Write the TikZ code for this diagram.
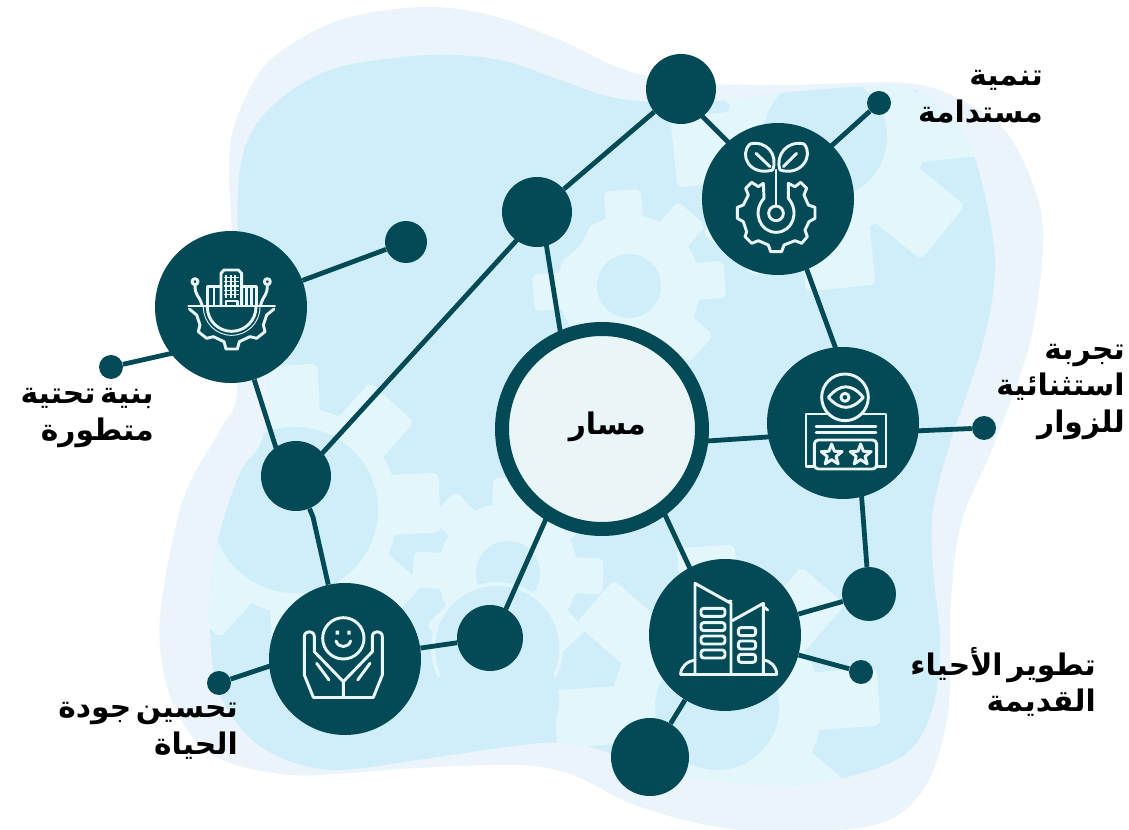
\documentclass[tikz,border=0pt]{standalone}
\usepackage{fontspec}
\usetikzlibrary{calc,backgrounds}
\TeXXeTstate=1
\newfontfamily\arfont[Script=Arabic,WordSpace=0.45]{DejaVu Sans Bold}
\definecolor{deep}{HTML}{034A56}
\definecolor{outerblob}{HTML}{EAF4FA}
\definecolor{innerblob}{HTML}{CFEEF9}
\definecolor{gearlight}{HTML}{E2F6FC}
\definecolor{iconline}{HTML}{E9F5F7}
\tikzset{
  disc/.style={circle,fill=deep,inner sep=0pt,minimum size=#1},
  big/.style={disc=114pt},
  link/.style={draw=deep,line width=3.6pt},
  icon/.style={draw=iconline,line width=2.2pt,line join=round,line cap=round},
  lbl/.style={font=\arfont\fontsize{22.3}{27.5}\selectfont,text=black,align=right,inner sep=0pt,anchor=east},
}
% \gearat{cx}{cy}{r out}{r body}{tooth width}{rotation}{hole}
\newcommand{\gearat}[7]{%
  \begin{scope}[shift={(#1,#2)}]
    \fill[gearlight] (0,0) circle[radius=#4];
    \foreach \gearang in {0,45,...,315}{
      \begin{scope}[rotate=\gearang+#6]
        \fill[gearlight,rounded corners=4.5pt] (#4-15,-#5/2) -- (#3,-#5/2) -- (#3,#5/2) -- (#4-15,#5/2) -- cycle;
      \end{scope}
    }
    \fill[innerblob] (0,0) circle[radius=#7];
  \end{scope}}
\def\innerpath{plot[smooth cycle,tension=.55] coordinates{(238,190)(250,135)(285,95)(340,67)(430,55)(500,60)(560,80)(610,97)(665,103)(720,101)(783,93)(857,87)(910,88)(950,115)(977,165)(995,260)(983,343)(950,443)(933,510)(933,570)(940,640)(933,707)(907,753)(847,777)(773,785)(683,775)(630,760)(583,745)(540,743)(483,750)(417,760)(333,770)(275,755)(240,727)(215,680)(210,600)(218,540)(240,473)(262,440)(268,380)(242,290)}}
\begin{document}
\begin{tikzpicture}[x=.75pt,y=-.75pt]
\useasboundingbox (0,0) rectangle (1129,830);
% nodes
\node[circle,draw=deep,fill=iconline,line width=10.5pt,inner sep=0pt,minimum size=150pt] (hub) at (602,429) {};
\node[big] (infra) at (231,307) {};
\node[big] (sprout) at (778,199) {};
\node[big] (eye) at (843,423) {};
\node[big] (towers) at (725,635) {};
\node[big] (hands) at (345,659) {};
\node[disc=52.5pt] (topm) at (681,89) {};
\node[disc=52.5pt] (upm) at (537,212) {};
\node[disc=52.5pt] (leftm) at (296,476) {};
\node[disc=49.5pt] (lowm) at (490,638) {};
\node[disc=40.5pt] (rightm) at (869,594) {};
\node[disc=58.5pt] (botm) at (650,757) {};
\node[disc=31.5pt] (infrad) at (406,242) {};
\node[disc=18pt] (infras) at (111,367) {};
\node[disc=18pt] (sprouts) at (879,103) {};
\node[disc=18pt] (eyes) at (984,428) {};
\node[disc=18pt] (towerss) at (861,672) {};
\node[disc=18pt] (handss) at (219,683) {};
\coordinate (kink) at (313,517);
\begin{pgfonlayer}{background}
  \fill[outerblob] plot[smooth cycle,tension=.55] coordinates{(229,165)(238,115)(270,60)(340,20)(423,7)(490,15)(560,40)(620,68)(680,82)(780,85)(907,83)(965,102)(1007,133)(1035,190)(1043,243)(1030,343)(993,447)(962,520)(951,600)(948,713)(923,790)(870,826)(740,830)(640,807)(573,775)(517,765)(417,768)(350,773)(290,775)(230,763)(195,740)(168,690)(160,617)(183,500)(220,430)(237,393)(235,280)};
  \fill[innerblob] \innerpath;
  \begin{scope}
    \clip \innerpath;
    \gearat{825}{137}{152}{100}{70}{6}{62}
    \gearat{295}{510}{145}{103}{60}{3}{83}
    \gearat{717}{708}{162}{105}{58}{4}{62}
    \gearat{629}{286}{96}{71}{37}{4}{32}
    \fill[innerblob] (upm) circle[radius=54];
    \gearat{508}{573}{95}{70}{36}{-2}{32}
    \fill[gearlight] (497,648) circle[radius=66];
    \fill[innerblob] (497,648) circle[radius=62];
    \fill[innerblob] (497,700) circle[radius=62];
  \end{scope}
  % connectors
  \draw[link] (infra) -- (infrad);
  \draw[link] ($(infra)+(0,33)$) -- (infras);
  \draw[link] (infra) -- ($(leftm)+(-11,0)$);
  \draw[link] ($(leftm)+(0,6)$) -- ($(upm)+(0,6)$);
  \draw[link] (leftm) -- (kink) -- (hands);
  \draw[link] (upm) -- (topm);
  \draw[link] ($(upm)+(4,0)$) -- ($(hub)+(-26,0)$);
  \draw[link] ($(topm)+(0,6)$) -- ($(sprout)+(0,-7)$);
  \draw[link] ($(sprout)+(0,-5)$) -- (sprouts);
  \draw[link] ($(sprout)+(3,0)$) -- ($(eye)+(20,0)$);
  \draw[link] ($(hub)+(0,19)$) -- ($(eye)+(0,9)$);
  \draw[link] ($(eye)+(0,11)$) -- (eyes);
  \draw[link] ($(eye)+(13,0)$) -- (rightm);
  \draw[link] (rightm) -- (towers);
  \draw[link] (towers) -- (towerss);
  \draw[link] (towers) -- (botm);
  \draw[link] ($(hub)+(23,0)$) -- ($(towers)+(-4,0)$);
  \draw[link] ($(hub)+(-16,0)$) -- ($(lowm)+(3,0)$);
  \draw[link] (lowm) -- (hands);
  \draw[link] ($(hands)+(0,-18)$) -- (handss);
\end{pgfonlayer}
% icon: infrastructure
\begin{scope}[shift={(150,225)},x=.25pt,y=-.25pt]
  \draw[icon] (213,240) -- (213,145) -- (222,135) -- (265,135) -- (275,145) -- (275,240);
  \draw[icon] (213,185) -- (172,185) -- (172,240);
  \draw[icon] (275,185) -- (320,185) -- (320,240);
  \draw[icon] (192,187) -- (192,240) (290,187) -- (290,240) (305,187) -- (305,240);
  \foreach \gx in {228,242,256} \draw[iconline,line width=1.5pt] (\gx,150) -- (\gx,218);
  \foreach \gy in {157,170,183,196,209} \draw[iconline,line width=.9pt] (222,\gy) -- (266,\gy);
  \draw[icon] (228,240) -- (228,228) -- (262,228) -- (262,240);
  \draw[icon] (116,243) -- (374,243);
  \draw[icon] (118,252) -- (140,270) -- (150,300) -- (145,320) -- (170,340) -- (190,335) -- (222,350) -- (228,372) -- (262,372) -- (268,350) -- (300,335) -- (320,340) -- (345,320) -- (340,300) -- (350,270) -- (372,252);
  \draw[icon] (172,246) arc[start angle=180,end angle=0,radius=73];
  \draw[iconline,line width=.7pt] (160,246) arc[start angle=180,end angle=0,radius=85];
  \draw[icon] (135,170) circle[radius=9] (352,170) circle[radius=9];
  \draw[icon] (135,179) .. controls (135,215) and (145,205) .. (156,240);
  \draw[icon] (352,179) .. controls (352,215) and (342,205) .. (332,240);
\end{scope}
% icon: sprout and gear
\begin{scope}[shift={(700,120)},x=.25pt,y=-.25pt]
  \draw[icon] (218,150) .. controls (150,170) and (115,105) .. (150,72) .. controls (200,60) and (235,105) .. (218,150);
  \draw[icon] (240,150) .. controls (225,105) and (262,60) .. (312,72) .. controls (342,105) and (305,170) .. (240,150);
  \draw[icon] (168,100) -- (210,140) (290,100) -- (250,140);
  \draw[icon] (228,150) -- (228,258);
  \draw[icon] (228,280) circle[radius=22];
  \draw[icon] (192,235) .. controls (155,275) and (180,337) .. (228,337) .. controls (278,337) and (300,275) .. (265,235);
  \draw[icon] (192,235) -- (190,190) -- (175,200) -- (155,187) -- (137,205) -- (145,225) -- (130,255) -- (112,262) -- (112,295) -- (130,305) -- (140,335) -- (135,350) -- (155,370) -- (175,362) -- (205,375) -- (212,395) -- (245,395) -- (252,375) -- (285,362) -- (305,370) -- (322,350) -- (315,330) -- (327,305) -- (345,295) -- (345,262) -- (325,255) -- (312,225) -- (320,205) -- (302,187) -- (285,200) -- (265,190) -- (265,235);
\end{scope}
% icon: eye and card
\begin{scope}[shift={(765,345)},x=.25pt,y=-.25pt]
  \draw[icon] (123,207) rectangle (363,365);
  \draw[icon,fill=deep] (240,157) circle[radius=70];
  \draw[icon] (190,157) .. controls (225,115) and (260,115) .. (295,157) .. controls (260,197) and (225,197) .. (190,157);
  \draw[icon] (240,157) circle[radius=12];
  \draw[icon] (153,245) -- (333,245) (153,263) -- (333,263);
  \draw[icon,fill=deep,rounded corners=3pt] (148,285) rectangle (335,372);
  \foreach \sx in {200,287}{
    \begin{scope}[shift={(\sx,330)}]
      \draw[icon] (0,-33) -- (8.2,-11.3) -- (31.4,-10.2) -- (13.3,4.3) -- (19.4,26.7) -- (0,14) -- (-19.4,26.7) -- (-13.3,4.3) -- (-31.4,-10.2) -- (-8.2,-11.3) -- cycle;
    \end{scope}
  }
\end{scope}
% icon: buildings
\begin{scope}[shift={(645,555)},x=.25pt,y=-.25pt]
  \draw[icon] (150,355) -- (150,85) -- (258,145) -- (258,355);
  \draw[icon] (262,197) -- (355,145) -- (355,355);
  \draw[icon] (355,155) -- (368,165) (250,140) -- (258,138);
  \draw[icon] (107,358) -- (395,358);
  \draw[icon] (107,358) .. controls (107,335) and (128,318) .. (150,315);
  \draw[icon] (355,315) .. controls (378,318) and (395,335) .. (395,358);
  \foreach \wy in {160,203,243,285} \draw[icon,rounded corners=2pt] (168,\wy) rectangle (240,\wy+24);
  \foreach \wy in {218,258,298} \draw[icon,rounded corners=2pt] (280,\wy) rectangle (332,\wy+24);
\end{scope}
% icon: hands and smile
\begin{scope}[shift={(265,580)},x=.25pt,y=-.25pt]
  \draw[icon] (235,175) circle[radius=62];
  \fill[iconline] (212,152) rectangle (222,164) (247,152) rectangle (257,164);
  \draw[icon] (213,183) .. controls (220,205) and (250,205) .. (257,183);
  \draw[icon] (145,352) -- (325,352);
  \draw[icon] (145,352) -- (118,285) -- (118,170) .. controls (118,150) and (148,150) .. (148,170) -- (148,215) -- (235,305) -- (235,352);
  \draw[icon] (325,352) -- (352,285) -- (352,170) .. controls (352,150) and (322,150) .. (322,170) -- (322,215) -- (235,305);
  \draw[icon] (155,250) -- (192,300) (315,250) -- (278,300);
\end{scope}
% labels
\node[lbl] (hubtext) at (646,427) {\beginR مسار\endR};
\node[lbl] (t1) at (1043,97) {\beginR تنمية\endR\\\beginR مستدامة\endR};
\node[lbl] (t2) at (1125,392) {\beginR تجربة\endR\\\beginR استثنائية\endR\\\beginR للزوار\endR};
\node[lbl] (t3) at (1096,682) {\beginR تطوير الأحياء\endR\\\beginR القديمة\endR};
\node[lbl] (t4) at (238,731) {\beginR تحسين جودة\endR\\\beginR الحياة\endR};
\node[lbl] (t5) at (154,418) {\beginR بنية تحتية\endR\\\beginR متطورة\endR};
\end{tikzpicture}
\end{document}
